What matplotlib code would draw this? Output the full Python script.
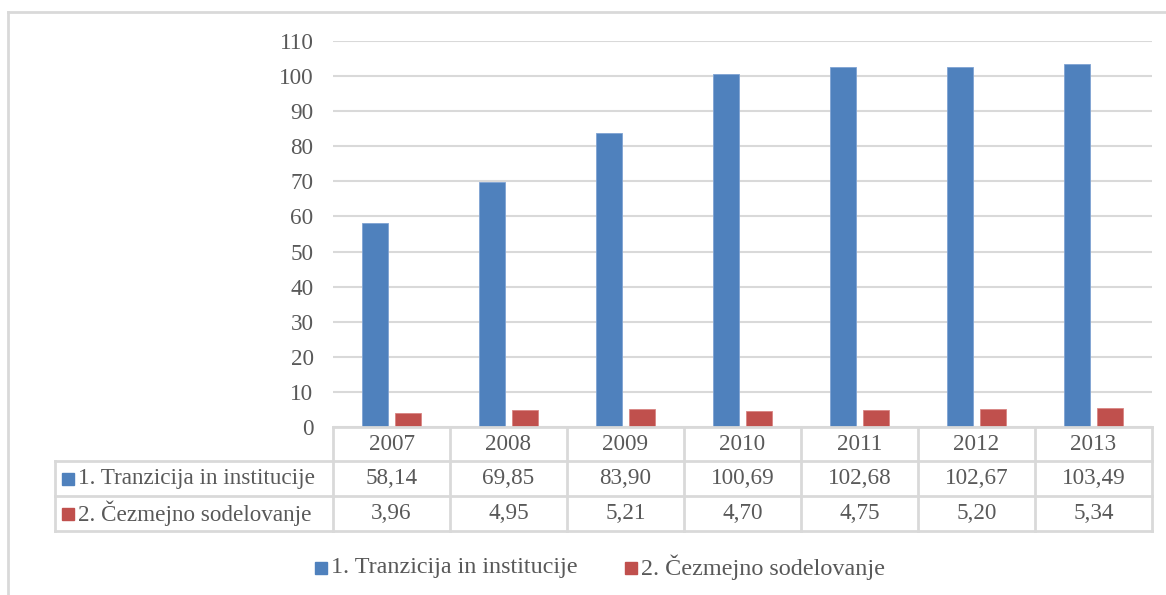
import matplotlib.pyplot as plt
import numpy as np

# Data
years = ["2007", "2008", "2009", "2010", "2011", "2012", "2013"]
series_names = ["1. Tranzicija in institucije", "2. Čezmejno sodelovanje"]
tranzicija = [58.14, 69.85, 83.90, 100.69, 102.68, 102.67, 103.49]
cezmejno = [3.96, 4.95, 5.21, 4.70, 4.75, 5.20, 5.34]
colors = ["#4F81BD", "#C0504D"]

W, H = 1166, 595
plt.rcParams['font.family'] = 'serif'
plt.rcParams['font.serif'] = ['Liberation Serif', 'DejaVu Serif']
txt = "#595959"
grid = "#D9D9D9"
fs = 16.7

fig = plt.figure(figsize=(W / 100, H / 100), dpi=100)

# plot area in pixel coords
x0, x1, y_top, y_bot = 333, 1152, 41, 427
ax = fig.add_axes([x0 / W, 1 - y_bot / H, (x1 - x0) / W, (y_bot - y_top) / H])
x = np.arange(len(years))
ax.bar(x - 0.143, tranzicija, width=0.222, color=colors[0], edgecolor="#7FA3D3", linewidth=0.6, zorder=3)
ax.bar(x + 0.143, cezmejno, width=0.222, color=colors[1], edgecolor="#D98583", linewidth=0.6, zorder=3)
ax.set_xlim(-0.5, len(years) - 0.5)
ax.set_ylim(0, 110)
ax.set_yticks(range(0, 111, 10))
ax.yaxis.grid(True, color=grid, linewidth=1.5, zorder=0)
ax.tick_params(axis='y', length=0, pad=14, labelsize=fs, labelcolor=txt)
ax.tick_params(axis='x', length=0, labelbottom=False)
for s in ax.spines.values():
    s.set_visible(False)

# overlay in pixel coords for table, legend and frame
ov = fig.add_axes([0, 0, 1, 1], zorder=5)
ov.set_xlim(0, W)
ov.set_ylim(H, 0)
ov.axis('off')
ov.patch.set_alpha(0)

lw = 2
# outer frame (top and left only visible)
ov.plot([8, W], [12, 12], color=grid, lw=lw)
ov.plot([8, 8], [12, H], color=grid, lw=lw)

# table
col_w = (x1 - x0) / len(years)
rows_y = [427, 461, 496, 531]
left_x = 55
ov.plot([x0, x1], [rows_y[0], rows_y[0]], color=grid, lw=lw)
for yy in rows_y[1:]:
    ov.plot([left_x, x1], [yy, yy], color=grid, lw=lw)
ov.plot([left_x, left_x], [rows_y[1], rows_y[3]], color=grid, lw=lw)
for i in range(len(years) + 1):
    xx = x0 + i * col_w
    ov.plot([xx, xx], [rows_y[0], rows_y[3]], color=grid, lw=lw)

def cell_y(r):
    return (rows_y[r] + rows_y[r + 1]) / 2

for i, yr in enumerate(years):
    cx = x0 + (i + 0.5) * col_w
    ov.text(cx, cell_y(0), yr, ha='center', va='center', fontsize=fs, color=txt)
    ov.text(cx, cell_y(1), f"{tranzicija[i]:.2f}".replace('.', ','), ha='center', va='center', fontsize=fs, color=txt)
    ov.text(cx, cell_y(2), f"{cezmejno[i]:.2f}".replace('.', ','), ha='center', va='center', fontsize=fs, color=txt)

for r, (name, c) in enumerate(zip(series_names, colors)):
    yy = cell_y(r + 1)
    ov.plot(68, yy, marker='s', markersize=8.5, color=c, linestyle='none')
    ov.text(78, yy, name, ha='left', va='center', fontsize=fs, color=txt)

# bottom legend
leg_y = 567
for xm, name, c in [(321, series_names[0], colors[0]), (631, series_names[1], colors[1])]:
    ov.plot(xm, leg_y + 1, marker='s', markersize=8.5, color=c, linestyle='none')
    ov.text(xm + 10, leg_y, name, ha='left', va='center', fontsize=17.4, color=txt)

fig.savefig("out.png", dpi=100)
